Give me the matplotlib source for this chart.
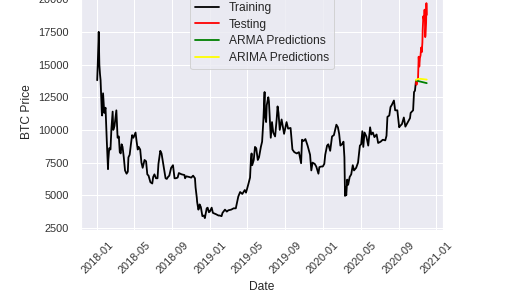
import matplotlib
matplotlib.use("Agg")
import matplotlib.pyplot as plt
import seaborn as sns
import pandas as pd

sns.set_theme(style="darkgrid")
plt.rcParams['font.family'] = ['Liberation Sans', 'DejaVu Sans']

train_dates = [
    "2018-01-01","2018-01-03","2018-01-06","2018-01-08","2018-01-10","2018-01-12","2018-01-16","2018-01-17",
    "2018-01-20","2018-01-24","2018-01-28","2018-02-01","2018-02-05","2018-02-06","2018-02-09","2018-02-13",
    "2018-02-16","2018-02-20","2018-02-22","2018-02-26","2018-03-04","2018-03-08","2018-03-12","2018-03-15",
    "2018-03-18","2018-03-21","2018-03-24","2018-03-28","2018-04-01","2018-04-06","2018-04-10","2018-04-12",
    "2018-04-16","2018-04-20","2018-04-24","2018-04-28","2018-05-05","2018-05-08","2018-05-12","2018-05-15",
    "2018-05-20","2018-05-24","2018-05-28","2018-06-03","2018-06-08","2018-06-12","2018-06-16","2018-06-22",
    "2018-06-28","2018-07-01","2018-07-05","2018-07-10","2018-07-15","2018-07-18","2018-07-24","2018-07-28",
    "2018-08-01","2018-08-05","2018-08-10","2018-08-14","2018-08-18","2018-08-22","2018-08-28","2018-09-03",
    "2018-09-08","2018-09-12","2018-09-18","2018-09-22","2018-10-01","2018-10-10","2018-10-12","2018-10-16",
    "2018-10-25","2018-11-01","2018-11-07","2018-11-13","2018-11-15","2018-11-19","2018-11-20","2018-11-24",
    "2018-11-26","2018-11-28","2018-12-02","2018-12-07","2018-12-12","2018-12-15","2018-12-19","2018-12-21",
    "2018-12-24","2018-12-28","2018-12-31",
    "2019-01-06","2019-01-10","2019-01-15","2019-01-20","2019-01-28","2019-02-01","2019-02-07","2019-02-10",
    "2019-02-18","2019-02-24","2019-03-01","2019-03-10","2019-03-18","2019-03-25","2019-04-02","2019-04-08",
    "2019-04-15","2019-04-23","2019-04-27","2019-05-04","2019-05-10","2019-05-13","2019-05-15","2019-05-17",
    "2019-05-22","2019-05-26","2019-05-30","2019-06-04","2019-06-08","2019-06-14","2019-06-18","2019-06-22",
    "2019-06-26","2019-06-27","2019-07-01","2019-07-03","2019-07-08","2019-07-10","2019-07-12","2019-07-16",
    "2019-07-20","2019-07-24","2019-07-30","2019-08-04","2019-08-07","2019-08-10","2019-08-14","2019-08-20",
    "2019-08-28","2019-09-05","2019-09-10","2019-09-18","2019-09-24","2019-09-30","2019-10-08","2019-10-15",
    "2019-10-22","2019-10-25","2019-10-30","2019-11-05","2019-11-12","2019-11-20","2019-11-24","2019-11-28",
    "2019-12-05","2019-12-10","2019-12-17","2019-12-20","2019-12-26","2019-12-31",
    "2020-01-05","2020-01-08","2020-01-14","2020-01-18","2020-01-24","2020-01-30","2020-02-05","2020-02-10",
    "2020-02-13","2020-02-18","2020-02-22","2020-02-26","2020-03-02","2020-03-07","2020-03-10","2020-03-12",
    "2020-03-13","2020-03-16","2020-03-19","2020-03-22","2020-03-27","2020-04-01","2020-04-06","2020-04-10",
    "2020-04-17","2020-04-23","2020-04-29","2020-05-03","2020-05-07","2020-05-10","2020-05-14","2020-05-20",
    "2020-05-26","2020-06-01","2020-06-05","2020-06-10","2020-06-15","2020-06-22","2020-06-27","2020-07-05",
    "2020-07-12","2020-07-20","2020-07-24","2020-07-27","2020-08-02","2020-08-06","2020-08-10","2020-08-17",
    "2020-08-21","2020-08-28","2020-09-03","2020-09-06","2020-09-12","2020-09-18","2020-09-23","2020-10-01",
    "2020-10-08","2020-10-10","2020-10-14","2020-10-18","2020-10-21","2020-10-24","2020-10-27",
]
train_prices = [
    13800,15100,17500,15000,14300,13800,11300,11100,
    12800,11300,11700,9200,7000,7700,8600,8500,
    10100,11400,10000,10300,11500,9400,9500,8300,
    8200,8900,8700,7900,6900,6650,6800,7900,
    8100,8900,9600,9400,9800,9200,8500,8700,
    8500,7500,7100,7700,7600,6600,6500,6000,
    5900,6400,6600,6300,6300,7400,8400,8200,
    7600,7000,6300,6250,6400,6500,7100,7300,
    6300,6300,6350,6700,6600,6550,6300,6450,
    6400,6350,6500,6300,5600,4800,4500,3900,
    4000,4300,4100,3400,3450,3250,3750,4000,
    4050,3700,3750,
    4050,3650,3600,3550,3450,3450,3400,3650,
    3900,3750,3850,3900,4000,4000,4900,5250,
    5100,5400,5200,5800,6350,7800,8200,7300,
    7700,8700,8600,7700,7900,8700,9100,10700,
    12900,11100,10600,11900,12500,12200,11300,9400,
    10600,9800,9500,10800,11800,11300,10000,10800,
    9700,10600,10100,10150,8500,8300,8200,8300,
    7450,9250,9150,9300,8800,8100,6900,7500,
    7400,7200,6650,7150,7200,7200,
    7400,8100,8800,8900,8400,9500,9600,10100,
    10400,10200,9700,8800,8900,9100,7900,4950,
    5600,5000,6200,5800,6400,6600,7300,6900,
    7100,7500,8800,8900,9900,8700,9800,9500,
    8800,10200,9650,9800,9450,9650,9000,9100,
    9250,9200,9550,11000,11100,11750,11900,12250,
    11500,11500,10200,10300,10450,10950,10250,10600,
    10900,11300,11400,11500,12900,13000,13700,
]

test_dates = [
    "2020-10-27","2020-10-29","2020-11-01","2020-11-03","2020-11-05","2020-11-07","2020-11-09","2020-11-11",
    "2020-11-13","2020-11-15","2020-11-17","2020-11-18","2020-11-20","2020-11-22","2020-11-24","2020-11-25",
    "2020-11-26","2020-11-27","2020-11-28","2020-11-29","2020-11-30","2020-12-01",
]
test_prices = [
    13700,13450,13750,14000,15600,14850,15500,15700,
    16300,15950,16700,17650,18700,18400,19200,18700,
    17100,17200,17700,18200,19700,18800,
]

pred_dates = ["2020-10-27","2020-11-03","2020-11-10","2020-11-17","2020-11-24","2020-12-01"]
arma_pred = [13780,13740,13700,13660,13620,13580]
arima_pred = [13820,13900,13910,13890,13870,13850]

W, H, DPI = 516, 290, 72
fig = plt.figure(figsize=(W / DPI, H / DPI), dpi=DPI)
ax = fig.add_axes([80.7 / W, 60.5 / H, 362.5 / W, 235.5 / H])

ax.plot(pd.to_datetime(train_dates), train_prices, color="black", lw=1.8, label="Training")
ax.plot(pd.to_datetime(test_dates), test_prices, color="red", lw=1.8, label="Testing")
ax.plot(pd.to_datetime(pred_dates), arma_pred, color="green", lw=1.8, label="ARMA Predictions")
ax.plot(pd.to_datetime(pred_dates), arima_pred, color="yellow", lw=1.8, label="ARIMA Predictions")

ax.set_ylim(2380, 20400)
ax.set_xlabel("Date", fontsize=12, labelpad=6)
ax.set_ylabel("BTC Price", fontsize=12, labelpad=5)
ax.tick_params(axis="both", labelsize=11, colors="#333333", length=0)
ax.tick_params(axis="y", pad=12)
ax.tick_params(axis="x", pad=10)
for lbl in ax.get_xticklabels():
    lbl.set_rotation(45)
ax.legend(loc="upper center", fontsize=12, labelspacing=0.4,
          bbox_to_anchor=(0.5, 1.013))

fig.savefig("out.png", dpi=DPI)
